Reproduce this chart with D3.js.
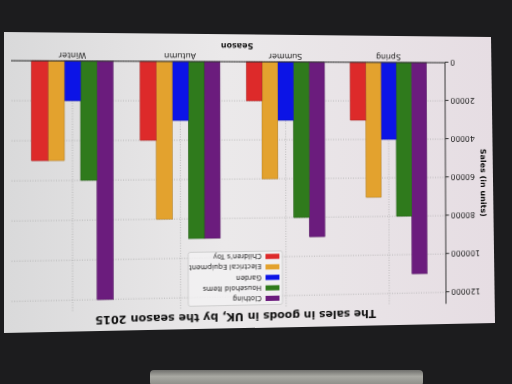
<!DOCTYPE html>
<html>
<head>
<meta charset="utf-8">
<script src="https://cdn.jsdelivr.net/npm/d3@7"></script>
<style>
  body { margin: 0; background: #1c1c1e; overflow: hidden; }
  svg { display: block; font-family: "DejaVu Sans", sans-serif; }
  #bg { position: absolute; left: 0; top: 0; }
  #chart { position: absolute; left: 0; top: 0; transform-origin: 0 0; }
</style>
</head>
<body>
<script>
// data
const seasons = ["Spring", "Summer", "Autumn", "Winter"];
const seriesNames = ["Clothing", "Household Items", "Garden", "Electrical Equipment", "Children's Toy"];
const seriesColors = ["#6b1c7d", "#2f7a1c", "#0c14e6", "#e3a22e", "#dd2a2a"];
const clothing = [110000, 90000, 90000, 120000];
const household = [80000, 80000, 90000, 60000];
const garden = [40000, 30000, 30000, 20000];
const electrical = [70000, 60000, 80000, 50000];
const toys = [30000, 20000, 40000, 50000];
const yTicks = [0, 20000, 40000, 60000, 80000, 100000, 120000];

const allSeries = [clothing, household, garden, electrical, toys];

const W = 512, H = 384;

// ---- photo background: bezel, screen, pen ----
const bg = d3.select("body").append("svg").attr("id", "bg")
    .attr("width", W).attr("height", H);
const defs = bg.append("defs");
const grad = defs.append("linearGradient").attr("id", "scr")
    .attr("x1", "0").attr("x2", "1").attr("y1", "0").attr("y2", "0");
grad.append("stop").attr("offset", "0").attr("stop-color", "#d9d9da");
grad.append("stop").attr("offset", "0.45").attr("stop-color", "#ebe9ea");
grad.append("stop").attr("offset", "1").attr("stop-color", "#e6dde3");
const pen = defs.append("linearGradient").attr("id", "pen")
    .attr("x1", "0").attr("x2", "0").attr("y1", "0").attr("y2", "1");
pen.append("stop").attr("offset", "0").attr("stop-color", "#6f6f6c");
pen.append("stop").attr("offset", "0.4").attr("stop-color", "#a9a9a3");
pen.append("stop").attr("offset", "1").attr("stop-color", "#8a8a85");

bg.append("rect").attr("width", W).attr("height", H).attr("fill", "#1c1c1e");
bg.append("polygon")
    .attr("points", "4,32 491,37 495,323 4,333")
    .attr("fill", "url(#scr)");
bg.append("rect").attr("x", 150).attr("y", 370).attr("width", 273).attr("height", 16)
    .attr("rx", 4).attr("fill", "url(#pen)");

// ---- chart, drawn upright, then warped onto the photographed screen ----
const svg = d3.select("body").append("svg").attr("id", "chart")
    .attr("width", W).attr("height", H);
const g = svg.append("g");

const x0 = 67, x1 = 501, yBase = 321, yTop = 81.4;

// homography: plot corners (flat) -> where they sit in the photo (upside down, in perspective)
function homography(src, dst) {
  const A = [], b = [];
  for (let i = 0; i < 4; i++) {
    const [x, y] = src[i], [u, v] = dst[i];
    A.push([x, y, 1, 0, 0, 0, -u * x, -u * y]); b.push(u);
    A.push([0, 0, 0, x, y, 1, -v * x, -v * y]); b.push(v);
  }
  const n = 8;
  for (let c = 0; c < n; c++) {
    let p = c;
    for (let r = c + 1; r < n; r++) if (Math.abs(A[r][c]) > Math.abs(A[p][c])) p = r;
    [A[c], A[p]] = [A[p], A[c]]; [b[c], b[p]] = [b[p], b[c]];
    for (let r = 0; r < n; r++) {
      if (r === c) continue;
      const f = A[r][c] / A[c][c];
      for (let k = c; k < n; k++) A[r][k] -= f * A[c][k];
      b[r] -= f * b[c];
    }
  }
  return b.map((v, i) => v / A[i][i]);
}
const hm = homography(
  [[x0, yBase], [x1, yBase], [x1, yTop], [x0, yTop]],
  [[445, 62.7], [11, 60.7], [11, 313.5], [446, 303.8]]
);
const [a, bb, c, d, e, f, gg, hh] = hm;
svg.style("transform",
  "matrix3d(" + [a, d, 0, gg, bb, e, 0, hh, 0, 0, 1, 0, c, f, 0, 1].join(",") + ")");

const x = d3.scaleBand()
    .domain(seasons)
    .range([x0, x1])
    .paddingInner(0.25)
    .paddingOuter(0.185);

const xs = d3.scaleBand()
    .domain(d3.range(seriesNames.length))
    .range([0, x.bandwidth()]);

const y = d3.scaleLinear()
    .domain([0, 126000])
    .range([yBase, yTop]);

// grid
g.append("g").selectAll("line")
  .data(yTicks)
  .enter().append("line")
    .attr("x1", x0).attr("x2", x1)
    .attr("y1", d => y(d)).attr("y2", d => y(d))
    .attr("stroke", "#aaaaaa").attr("stroke-width", 0.7)
    .attr("stroke-dasharray", "1,1.5");
g.append("g").selectAll("line")
  .data(seasons)
  .enter().append("line")
    .attr("x1", d => x(d) + x.bandwidth() / 2).attr("x2", d => x(d) + x.bandwidth() / 2)
    .attr("y1", yBase).attr("y2", yTop)
    .attr("stroke", "#aaaaaa").attr("stroke-width", 0.7)
    .attr("stroke-dasharray", "1,1.5");

// bars
allSeries.forEach((vals, s) => {
  g.append("g").selectAll("rect")
    .data(vals)
    .enter().append("rect")
      .attr("x", (d, i) => x(seasons[i]) + xs(s))
      .attr("y", d => y(d))
      .attr("width", xs.bandwidth())
      .attr("height", d => yBase - y(d))
      .attr("fill", seriesColors[s])
      .attr("stroke", d3.color(seriesColors[s]).darker(0.8))
      .attr("stroke-width", 0.5);
});

// axes
const yAxis = g.append("g")
    .attr("transform", "translate(" + x0 + ",0)")
    .call(d3.axisLeft(y).tickValues(yTicks).tickSize(3.5).tickPadding(2).tickFormat(d3.format("d")));
yAxis.select(".domain").attr("d", "M0," + yBase + "V" + yTop).attr("stroke", "#333");
yAxis.selectAll("text").attr("font-size", 8).attr("fill", "#222").attr("font-family", "DejaVu Sans");
yAxis.selectAll(".tick line").attr("stroke", "#333");

const xAxis = g.append("g")
    .attr("transform", "translate(0," + yBase + ")")
    .call(d3.axisBottom(x).tickSize(0).tickPadding(2.5));
xAxis.select(".domain").attr("d", "M" + x0 + ",0H" + x1).attr("stroke", "#333");
xAxis.selectAll("text").attr("font-size", 8).attr("fill", "#222").attr("font-family", "DejaVu Sans");

// labels
g.append("text")
    .attr("x", (x0 + x1) / 2 - 4).attr("y", 339)
    .attr("text-anchor", "middle")
    .attr("font-size", 8).attr("font-weight", "bold").attr("fill", "#111")
    .text("Season");

g.append("text")
    .attr("transform", "translate(30," + ((yBase + yTop) / 2) + ") rotate(-90)")
    .attr("text-anchor", "middle")
    .attr("font-size", 8).attr("font-weight", "bold").attr("fill", "#111")
    .text("Sales (in units)");

g.append("text")
    .attr("x", 280).attr("y", 77)
    .attr("text-anchor", "middle")
    .attr("font-size", 11).attr("font-weight", "bold").attr("fill", "#111")
    .text("The sales in goods in UK, by the season 2015");

// legend
const leg = g.append("g").attr("transform", "translate(235,84.5)");
leg.append("rect")
    .attr("width", 94).attr("height", 52).attr("rx", 2)
    .attr("fill", "#f2f1f2").attr("fill-opacity", 0.8)
    .attr("stroke", "#c8c8c8").attr("stroke-width", 0.8);
const items = leg.selectAll("g")
  .data(seriesNames)
  .enter().append("g")
    .attr("transform", (d, i) => "translate(3," + (6 + i * 10.2) + ")");
items.append("rect")
    .attr("width", 14).attr("height", 5).attr("y", -2.5)
    .attr("fill", (d, i) => seriesColors[i]);
items.append("text")
    .attr("x", 18).attr("y", 2.5)
    .attr("font-size", 7).attr("fill", "#222")
    .text(d => d);
</script>
</body>
</html>
